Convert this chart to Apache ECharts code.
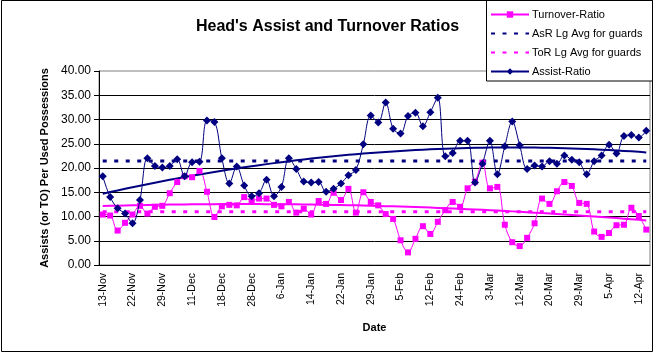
<!DOCTYPE html>
<html>
<head>
<meta charset="utf-8">
<title>Head's Assist and Turnover Ratios</title>
<script src="https://cdn.jsdelivr.net/npm/echarts@6/dist/echarts.min.js"></script>
<style>
  html, body { margin: 0; padding: 0; background: #fff; }
  #chart { width: 655px; height: 354px; }
</style>
</head>
<body>
<div id="chart"></div>
<script>
// game dates (only every 4th one is labelled on the axis)
var dates = [
  '13-Nov', '15-Nov', '17-Nov', '19-Nov', '22-Nov', '24-Nov', '25-Nov', '27-Nov',
  '29-Nov', '2-Dec', '5-Dec', '8-Dec', '11-Dec', '13-Dec', '15-Dec', '16-Dec',
  '18-Dec', '20-Dec', '22-Dec', '26-Dec', '28-Dec', '30-Dec', '2-Jan', '4-Jan',
  '6-Jan', '8-Jan', '10-Jan', '12-Jan', '14-Jan', '16-Jan', '18-Jan', '20-Jan',
  '22-Jan', '24-Jan', '26-Jan', '27-Jan', '29-Jan', '31-Jan', '1-Feb', '3-Feb',
  '5-Feb', '7-Feb', '8-Feb', '10-Feb', '12-Feb', '14-Feb', '19-Feb', '21-Feb',
  '24-Feb', '26-Feb', '28-Feb', '1-Mar', '3-Mar', '5-Mar', '7-Mar', '10-Mar',
  '12-Mar', '14-Mar', '16-Mar', '18-Mar', '20-Mar', '22-Mar', '24-Mar', '26-Mar',
  '29-Mar', '31-Mar', '1-Apr', '3-Apr', '5-Apr', '7-Apr', '9-Apr', '10-Apr',
  '12-Apr', '14-Apr'
];

var assistRatio = [
  18.3, 14.0, 11.7, 10.6, 8.6, 13.4, 22.0, 20.4, 20.1, 20.4,
  21.8, 18.3, 21.2, 21.3, 29.8, 29.5, 22.0, 16.8, 20.3, 16.4,
  14.2, 14.8, 17.6, 14.2, 16.1, 22.0, 19.8, 17.2, 17.0, 17.1,
  15.1, 15.7, 16.8, 18.5, 19.6, 24.9, 30.8, 29.4, 33.5, 28.1,
  27.1, 30.7, 31.4, 28.6, 31.5, 34.5, 22.4, 23.1, 25.6, 25.6,
  17.0, 20.9, 25.6, 18.7, 24.5, 29.6, 24.7, 19.8, 20.5, 20.3,
  21.4, 20.9, 22.6, 21.7, 21.2, 18.7, 21.4, 22.6, 24.8, 23.0,
  26.6, 26.8, 26.3, 27.7
];

var turnoverRatio = [
  10.4, 10.2, 7.1, 8.7, 10.4, 12.2, 10.6, 12.0, 12.2, 14.8,
  17.1, 18.3, 18.1, 19.4, 15.1, 9.9, 12.1, 12.4, 12.3, 14.0,
  13.2, 13.7, 13.7, 12.4, 12.1, 13.0, 10.8, 11.6, 10.4, 13.2,
  12.6, 14.9, 13.4, 15.7, 10.8, 15.0, 13.0, 12.3, 10.5, 9.5,
  5.1, 2.6, 5.4, 8.0, 6.4, 8.9, 11.3, 13.0, 12.0, 15.8,
  17.2, 21.1, 15.8, 16.1, 8.3, 4.7, 3.9, 5.6, 8.6, 13.7,
  12.6, 15.2, 17.1, 16.3, 12.8, 12.6, 6.9, 5.8, 6.6, 8.2,
  8.3, 11.8, 10.1, 7.3
];

// league averages for guards
var asrLgAvg = 21.45;
var torLgAvg = 11.0;

var yMin = 0, yMax = 40, yStep = 5;

var NAVY = '#000080';
var MAGENTA = '#FF00FF';
var FONT = 'Arial, "Liberation Sans", sans-serif';

// 2nd order polynomial trendline (least squares), like Excel's
function polyTrend(ys) {
  var s = [0, 0, 0, 0, 0], t = [0, 0, 0];
  ys.forEach(function (y, x) {
    var p = 1;
    for (var k = 0; k < 5; k++) { s[k] += p; if (k < 3) t[k] += p * y; p *= x; }
  });
  var m = [[s[0], s[1], s[2]], [s[1], s[2], s[3]], [s[2], s[3], s[4]]];
  function det(a) {
    return a[0][0] * (a[1][1] * a[2][2] - a[1][2] * a[2][1])
         - a[0][1] * (a[1][0] * a[2][2] - a[1][2] * a[2][0])
         + a[0][2] * (a[1][0] * a[2][1] - a[1][1] * a[2][0]);
  }
  var d = det(m), coef = [];
  for (var c = 0; c < 3; c++) {
    var mc = m.map(function (row, r) { return row.map(function (v, j) { return j === c ? t[r] : v; }); });
    coef.push(det(mc) / d);
  }
  return ys.map(function (y, x) { return coef[0] + coef[1] * x + coef[2] * x * x; });
}

function flat(v) { return dates.map(function () { return v; }); }

var chart = echarts.init(document.getElementById('chart'));

var noMarker = { color: 'rgba(0,0,0,0)', borderWidth: 0, opacity: 0 };

chart.setOption({
  animation: false,
  backgroundColor: '#fff',
  textStyle: { fontFamily: FONT, color: '#000' },
  title: {
    text: "Head's Assist and Turnover Ratios",
    left: 'center', top: 19, padding: 0,
    textStyle: { fontSize: 16, fontWeight: 'bold', color: '#000', fontFamily: FONT }
  },
  legend: {
    data: [
      { name: 'Turnover-Ratio' },
      { name: 'AsR Lg Avg for guards', itemStyle: noMarker },
      { name: 'ToR Lg Avg for guards', itemStyle: noMarker },
      { name: 'Assist-Ratio' }
    ],
    orient: 'vertical', left: 490, top: 8, padding: 0, z: 10,
    itemWidth: 38, itemHeight: 8, itemGap: 6,
    textStyle: { fontSize: 11, fontFamily: FONT, color: '#000', lineHeight: 13, padding: [0, 0, 0, -2] }
  },
  grid: {
    left: 99, right: 5, top: 71, bottom: 89,
    show: true, borderColor: '#808080', borderWidth: 1, backgroundColor: '#fff'
  },
  xAxis: {
    type: 'category', data: dates, boundaryGap: true,
    name: 'Date', nameLocation: 'middle', nameGap: 57,
    nameTextStyle: { fontSize: 11, fontWeight: 'bold', fontFamily: FONT, color: '#000' },
    axisLine: { lineStyle: { color: '#000', width: 1 } },
    axisTick: { interval: 0, length: 5, lineStyle: { color: '#000' } },
    axisLabel: { interval: 3, rotate: 90, margin: 8, fontSize: 10.5, fontFamily: FONT, color: '#000' },
    splitLine: { show: false }
  },
  yAxis: {
    type: 'value', min: yMin, max: yMax, interval: yStep,
    name: 'Assists (or TO) Per Used Possessions', nameLocation: 'middle', nameGap: 49,
    nameTextStyle: { fontSize: 11, fontWeight: 'bold', fontFamily: FONT, color: '#000' },
    axisLine: { show: true, lineStyle: { color: '#000', width: 1 } },
    axisTick: { show: true, length: 5, lineStyle: { color: '#000' } },
    axisLabel: { margin: 8, fontSize: 12, fontFamily: FONT, color: '#000',
      formatter: function (v) { return v.toFixed(2); } },
    splitLine: { show: true, showMaxLine: false, lineStyle: { color: '#000', width: 1 } }
  },
  graphic: [
    { type: 'rect', z: 100, silent: true,
      shape: { x: 1.5, y: 0.5, width: 651, height: 351 },
      style: { fill: 'none', stroke: '#000', lineWidth: 1 } },
    { type: 'rect', z: 5, silent: true,
      shape: { x: 486.5, y: 0.5, width: 166, height: 80.5 },
      style: { fill: '#fff', stroke: '#000', lineWidth: 1 } }
  ],
  series: [
    {
      name: 'Turnover-Ratio', type: 'line', data: turnoverRatio,
      smooth: 0.35, symbol: 'rect', symbolSize: 6, showSymbol: true, showAllSymbol: true, z: 3,
      itemStyle: { color: MAGENTA },
      lineStyle: { color: MAGENTA, width: 1 }
    },
    {
      name: 'AsR Lg Avg for guards', type: 'line', data: flat(asrLgAvg),
      symbol: 'none', z: 2,
      itemStyle: { color: NAVY },
      lineStyle: { color: NAVY, width: 3, type: [4, 7.5] }
    },
    {
      name: 'ToR Lg Avg for guards', type: 'line', data: flat(torLgAvg),
      symbol: 'none', z: 2,
      itemStyle: { color: MAGENTA },
      lineStyle: { color: MAGENTA, width: 3, type: [4, 7.5] }
    },
    {
      name: 'Assist-Ratio', type: 'line', data: assistRatio,
      smooth: 0.35, symbol: 'diamond', symbolSize: 8, showSymbol: true, showAllSymbol: true, z: 4,
      itemStyle: { color: NAVY },
      lineStyle: { color: NAVY, width: 1 }
    },
    {
      name: 'Assist trend', type: 'line', data: polyTrend(assistRatio),
      symbol: 'none', silent: true, z: 3,
      lineStyle: { color: NAVY, width: 2 }
    },
    {
      name: 'Turnover trend', type: 'line', data: polyTrend(turnoverRatio),
      symbol: 'none', silent: true, z: 3,
      lineStyle: { color: MAGENTA, width: 2 }
    }
  ]
});
</script>
</body>
</html>
